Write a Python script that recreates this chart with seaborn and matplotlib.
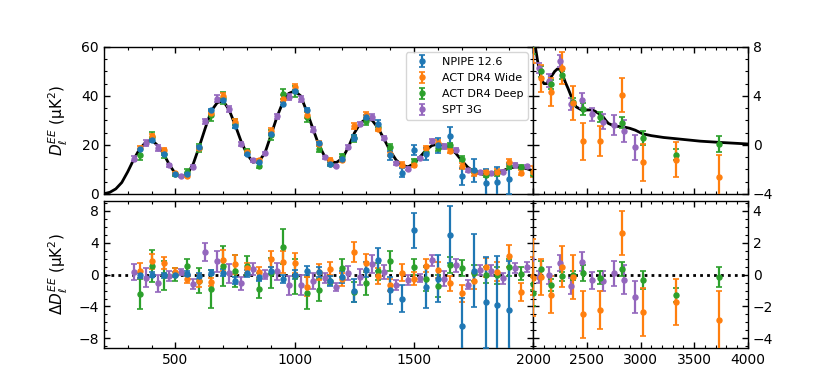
import numpy as np
import pandas as pd
import matplotlib
matplotlib.use("Agg")
import matplotlib.pyplot as plt
from matplotlib.ticker import MultipleLocator
import seaborn as sns

# ---------------- theory curve ----------------
theory_ell_left = [200, 225, 250, 275, 300, 325, 350, 375, 400, 425, 450, 475, 500, 525, 550, 575,
                   600, 625, 650, 675, 700, 725, 750, 775, 800, 825, 850, 875, 900, 925, 950, 975,
                   1000, 1025, 1050, 1075, 1100, 1125, 1150, 1175, 1200, 1225, 1250, 1275, 1300,
                   1325, 1350, 1375, 1400, 1425, 1450, 1475, 1500, 1525, 1550, 1575, 1600, 1625,
                   1650, 1675, 1700, 1725, 1750, 1775, 1800, 1825, 1850, 1875, 1900, 1925, 1950,
                   1975, 2000]
theory_D_left = [0.0, 0.6, 2.0, 4.6, 9.0, 14.0, 18.3, 21.0, 22.0, 19.8, 16.4, 11.8, 8.2, 6.9, 8.0, 12.3,
                 19.3, 26.8, 33.8, 37.2, 38.0, 34.3, 28.2, 21.5, 16.2, 12.9, 13.3, 16.6, 23.8, 31.2, 37.3, 41.0,
                 42.0, 40.0, 33.8, 27.0, 20.2, 15.4, 13.0, 12.8, 14.5, 19.0, 24.8, 28.8, 30.7,
                 30.0, 26.8, 22.3, 17.6, 13.8, 11.6, 11.0, 12.3, 15.0, 17.8, 19.7, 20.3, 19.9,
                 18.6, 16.6, 13.6, 10.9, 9.1, 8.2, 7.8, 7.9, 8.5, 9.5, 10.5, 11.0, 10.8,
                 10.2, 9.3]
theory_ell_right = [2000, 2020, 2040, 2050, 2060, 2070, 2080, 2100, 2125, 2150, 2170, 2200, 2225, 2250,
                    2270, 2300, 2325, 2350, 2370, 2400, 2450, 2465, 2500, 2550, 2575, 2620, 2650, 2675,
                    2700, 2750, 2825, 2850, 2900, 2950, 3020, 3100, 3215, 3330, 3555, 3735, 4000]
theory_D_right = [9.3, 8.0, 6.9, 6.45, 6.0, 5.6, 5.3, 5.0, 5.0, 5.3, 5.6, 6.0, 6.2, 6.15,
                  5.8, 5.1, 4.6, 4.05, 3.55, 3.1, 2.85, 2.8, 2.85, 2.85, 2.75, 2.5, 2.3, 2.0,
                  1.75, 1.55, 1.47, 1.45, 1.35, 1.2, 0.9, 0.75, 0.6, 0.5, 0.3, 0.2, 0.07]

# ---------------- NPIPE 12.6 ----------------
npipe_ell = [350, 400, 450, 500, 550, 600, 650, 700, 750, 800, 850, 900, 950, 1000, 1050, 1100,
             1150, 1200, 1250, 1300, 1350, 1400, 1450, 1500, 1550, 1600, 1650, 1700, 1750, 1800,
             1850, 1900]
npipe_D = [18.2, 22.0, 16.3, 8.2, 8.1, 19.2, 34.1, 38.3, 27.5, 16.4, 13.0, 24.3, 36.8, 42.0, 34.3, 20.6,
           12.2, 14.2, 22.8, 31.3, 28.7, 15.7, 8.6, 17.9, 16.3, 19.8, 23.6, 7.1, 9.6, 4.3,
           4.7, 6.1]
npipe_res = [-0.1, 0.0, -0.1, 0.0, 0.1, -0.15, 0.25, 0.25, -0.75, 0.15, -0.3, 0.5, -0.55, 0.0, 0.5, 0.35,
             -0.8, -0.3, -2.0, 0.6, 1.85, -1.95, -3.0, 5.55, -1.55, -0.5, 5.0, -6.5, 0.5, -3.5,
             -3.85, -4.4]
npipe_err = [0.3, 0.3, 0.3, 0.3, 0.3, 0.35, 0.35, 0.4, 0.45, 0.4, 0.45, 0.45, 0.5, 0.6, 0.6, 0.6,
             0.65, 0.8, 1.4, 0.95, 1.45, 1.7, 1.75, 2.2, 2.6, 3.0, 3.6, 3.6, 4.6, 5.7,
             6.2, 6.1]

# ---------------- ACT DR4 Wide ----------------
wide_ell = [350, 400, 450, 500, 550, 600, 650, 700, 750, 800, 850, 900, 950, 1000, 1050, 1100,
            1150, 1200, 1250, 1300, 1350, 1400, 1450, 1500, 1550, 1600, 1650, 1700, 1750, 1800,
            1850, 1900, 1950, 1997, 2070, 2170, 2270, 2370, 2465, 2620, 2825, 3020, 3330, 3735]
wide_D = [18.8, 23.7, 17.9, 8.5, 7.4, 18.6, 32.9, 39.8, 29.5, 17.0, 13.6, 25.8, 38.9, 43.5, 32.3, 20.5,
          13.8, 13.9, 27.6, 32.2, 26.6, 16.3, 11.9, 11.8, 18.9, 20.9, 17.5, 11.3, 8.4, 8.7,
          8.9, 12.8, 8.6, 9.1, 5.45, 4.35, 6.3, 3.4, 0.3, 0.3, 4.1, -1.43, -1.2, -2.65]
wide_res = [0.5, 1.65, 1.45, 0.3, -0.6, -0.75, -0.95, 1.8, 1.3, 0.8, 0.3, 1.95, 1.6, 1.45, -1.5, 0.3,
            0.75, -0.6, 2.8, 1.5, -0.2, -1.3, 0.25, -0.5, 1.1, 0.55, -1.1, -2.35, -0.75, 0.9,
            0.35, 2.3, -2.2, -0.2, -0.15, -1.25, 0.5, -0.15, -2.5, -2.2, 2.6, -2.33, -1.7, -2.85]
wide_err = [0.9, 0.9, 0.7, 0.5, 0.5, 0.8, 0.5, 1.3, 1.2, 0.6, 0.7, 0.95, 1.4, 1.2, 1.2, 1.0,
            0.8, 0.8, 1.25, 1.1, 1.0, 0.8, 1.1, 0.8, 0.8, 1.0, 0.9, 1.1, 1.0, 1.2,
            1.2, 1.4, 1.1, 2.4, 1.1, 1.15, 1.3, 1.4, 1.5, 1.2, 1.4, 1.5, 1.45, 1.85]

# ---------------- ACT DR4 Deep ----------------
deep_ell = [350, 400, 450, 500, 550, 600, 650, 700, 750, 800, 850, 900, 950, 1000, 1050, 1100,
            1150, 1200, 1250, 1300, 1350, 1400, 1500, 1550, 1600, 1650, 1700, 1750, 1800,
            1850, 1900, 1950, 1997, 2070, 2170, 2270, 2370, 2465, 2620, 2825, 3020, 3330, 3735]
deep_D = [15.9, 23.1, 16.3, 8.2, 9.1, 18.6, 32.0, 39.1, 28.7, 17.3, 11.5, 24.0, 40.8, 41.8, 31.5, 18.3,
          12.3, 15.3, 22.6, 29.6, 27.2, 19.3, 13.3, 17.2, 18.9, 19.8, 14.4, 9.3, 7.7,
          8.4, 11.4, 10.9, 8.2, 6.0, 4.95, 5.7, 3.5, 2.9, 2.3, 1.82, 0.57, -0.8, 0.04]
deep_res = [-2.45, 1.1, -0.1, 0.0, 1.1, -0.75, -1.85, 1.1, 0.5, 1.1, -1.8, 0.2, 3.5, -0.2, -2.3, -1.9,
            -0.75, 0.8, -2.2, -1.1, 0.4, 1.7, 0.95, -0.6, -1.4, 1.15, 0.8, 0.2, -0.1,
            -0.1, 0.9, 0.1, -1.15, 0.37, -0.65, -0.12, -0.05, 0.1, -0.2, 0.35, -0.33, -1.3, -0.16]
deep_err = [1.9, 2.0, 1.8, 0.8, 0.9, 1.6, 2.4, 2.5, 2.0, 1.2, 1.1, 1.9, 2.2, 2.2, 2.0, 1.4,
            0.6, 1.1, 1.3, 1.4, 1.1, 1.2, 1.0, 1.5, 1.4, 1.0, 1.0, 1.0, 1.0,
            1.1, 1.1, 0.8, 0.8, 0.45, 0.35, 0.3, 0.3, 0.5, 0.4, 0.45, 0.55, 0.45, 0.65]

# ---------------- SPT 3G ----------------
spt_ell = [325, 375, 425, 475, 525, 575, 625, 675, 725, 775, 825, 875, 925, 975, 1025, 1075,
           1125, 1175, 1225, 1275, 1325, 1375, 1425, 1475, 1525, 1575, 1625, 1675, 1725, 1775,
           1825, 1875, 1925, 1975, 2050, 2150, 2250, 2350, 2450, 2550, 2650, 2750, 2850, 2950]
spt_D = [14.3, 20.6, 18.7, 11.6, 7.25, 11.1, 29.6, 38.9, 34.5, 20.4, 13.6, 16.6, 31.6, 39.7, 38.7, 26.2,
         15.0, 11.3, 19.2, 28.5, 31.4, 22.7, 12.5, 10.3, 14.6, 21.5, 19.4, 17.8, 9.7, 8.8,
         8.4, 9.1, 11.8, 11.2, 6.3, 5.25, 6.85, 3.35, 3.65, 2.48, 1.9, 1.63, 1.12, -0.2]
spt_res = [0.3, -0.4, -1.1, -0.2, 0.35, -1.2, 2.8, 1.65, 0.15, -1.1, 0.7, 0.0, 0.4, -1.35, -1.3, -0.8,
           -0.45, -1.55, 0.2, -0.35, 1.35, 0.35, -1.3, -0.7, -0.4, 1.8, -0.5, 1.15, -1.25, 0.6,
           0.5, -0.45, 0.8, 0.95, -0.15, -0.05, 0.7, -0.7, 0.8, -0.37, -0.4, 0.08, -0.33, -1.4]
spt_err = [1.0, 1.2, 1.1, 0.6, 0.4, 0.6, 1.1, 1.3, 1.2, 0.8, 0.7, 0.6, 1.1, 1.2, 1.3, 1.0,
           0.6, 0.5, 0.9, 1.0, 1.1, 0.85, 0.6, 0.6, 0.5, 0.7, 0.9, 0.8, 0.6, 0.6,
           0.7, 0.7, 0.6, 0.6, 0.4, 0.55, 0.5, 0.5, 0.6, 0.55, 0.6, 0.8, 0.9, 1.0]

series = [
    ("NPIPE 12.6", npipe_ell, npipe_D, npipe_res, npipe_err, "#1f77b4"),
    ("ACT DR4 Wide", wide_ell, wide_D, wide_res, wide_err, "#ff7f0e"),
    ("ACT DR4 Deep", deep_ell, deep_D, deep_res, deep_err, "#2ca02c"),
    ("SPT 3G", spt_ell, spt_D, spt_res, spt_err, "#9467bd"),
]

# ---------------- style ----------------
sns.set_style("ticks")
plt.rcParams.update({
    "font.family": ["DejaVu Sans"],
    "axes.edgecolor": "black",
    "axes.labelcolor": "black",
    "text.color": "black",
    "xtick.color": "black",
    "ytick.color": "black",
    "xtick.direction": "in",
    "ytick.direction": "in",
    "xtick.top": True,
    "ytick.right": True,
    "xtick.labelsize": 10,
    "ytick.labelsize": 10,
    "axes.linewidth": 1.0,
})

fig = plt.figure(figsize=(8.31, 3.91), dpi=100)
gs = fig.add_gridspec(2, 2, width_ratios=[2, 1], left=0.125, right=0.9,
                      bottom=0.11, top=0.88, hspace=0.05, wspace=0.0)
axTL = fig.add_subplot(gs[0, 0])
axTR = fig.add_subplot(gs[0, 1])
axBL = fig.add_subplot(gs[1, 0])
axBR = fig.add_subplot(gs[1, 1])

# theory
sns.lineplot(x=theory_ell_left, y=theory_D_left, ax=axTL, color="black", lw=2,
             estimator=None, sort=False, zorder=1)
sns.lineplot(x=theory_ell_right, y=theory_D_right, ax=axTR, color="black", lw=2,
             estimator=None, sort=False, zorder=1)
for ax, lim in ((axBL, (200, 2000)), (axBR, (2000, 4000))):
    sns.lineplot(x=list(lim), y=[0, 0], ax=ax, color="black", lw=2, ls=(0, (1, 1.5)),
                 estimator=None, zorder=1)

MS = 3.6
handles = {}
for name, ell, D, res, err, col in reversed(series):
    for ax in (axTL, axTR):
        h = ax.errorbar(ell, D, yerr=err, fmt="o", color=col, ms=MS, elinewidth=1.6,
                        capsize=2, capthick=1.2, label=name, zorder=3)
        if ax is axTL:
            handles[name] = h
    for ax in (axBL, axBR):
        ax.errorbar(ell, res, yerr=err, fmt="o", color=col, ms=MS, elinewidth=1.6,
                    capsize=2, capthick=1.2, zorder=3)

# limits and ticks
axTL.set_xlim(200, 2000); axBL.set_xlim(200, 2000)
axTR.set_xlim(2000, 4000); axBR.set_xlim(2000, 4000)
axTL.set_ylim(0, 60); axTR.set_ylim(-4, 8)
axBL.set_ylim(-9.2, 9.2); axBR.set_ylim(-4.6, 4.6)

for ax in (axTL, axBL, axTR, axBR):
    ax.xaxis.set_major_locator(MultipleLocator(500))
    ax.xaxis.set_minor_locator(MultipleLocator(100))
axTL.yaxis.set_major_locator(MultipleLocator(20)); axTL.yaxis.set_minor_locator(MultipleLocator(5))
axTR.yaxis.set_major_locator(MultipleLocator(4)); axTR.yaxis.set_minor_locator(MultipleLocator(1))
axBL.yaxis.set_major_locator(MultipleLocator(4)); axBL.yaxis.set_minor_locator(MultipleLocator(1))
axBR.yaxis.set_major_locator(MultipleLocator(2)); axBR.yaxis.set_minor_locator(MultipleLocator(0.5))

for ax in (axTL, axTR, axBL, axBR):
    ax.tick_params(which="both", direction="in", top=True, right=True, left=True, bottom=True)
    ax.tick_params(which="major", length=4, width=1)
    ax.tick_params(which="minor", length=2.5, width=0.8)

axTL.tick_params(labelbottom=False)
axTR.tick_params(labelbottom=False, labelleft=False, labelright=True)
axBR.tick_params(labelleft=False, labelright=True)
axBL.set_xticks([500, 1000, 1500])
axBR.set_xticks([2000, 2500, 3000, 3500, 4000])

axTL.set_ylabel(r"$D_\ell^{EE}$ (μK$^2$)", fontsize=11, labelpad=6)
axBL.set_ylabel(r"$\Delta D_\ell^{EE}$ (μK$^2$)", fontsize=11, labelpad=6)
for ax in (axTR, axBR):
    ax.set_ylabel("")
for ax in (axTL, axTR, axBL, axBR):
    ax.set_xlabel("")
fig.align_ylabels([axTL, axBL])

order = ["NPIPE 12.6", "ACT DR4 Wide", "ACT DR4 Deep", "SPT 3G"]
leg = axTL.legend([handles[n] for n in order], order, loc="upper right", fontsize=8,
                  frameon=True, labelspacing=0.55)
leg.get_frame().set_edgecolor("0.8")

fig.savefig("out.png", dpi=100)
